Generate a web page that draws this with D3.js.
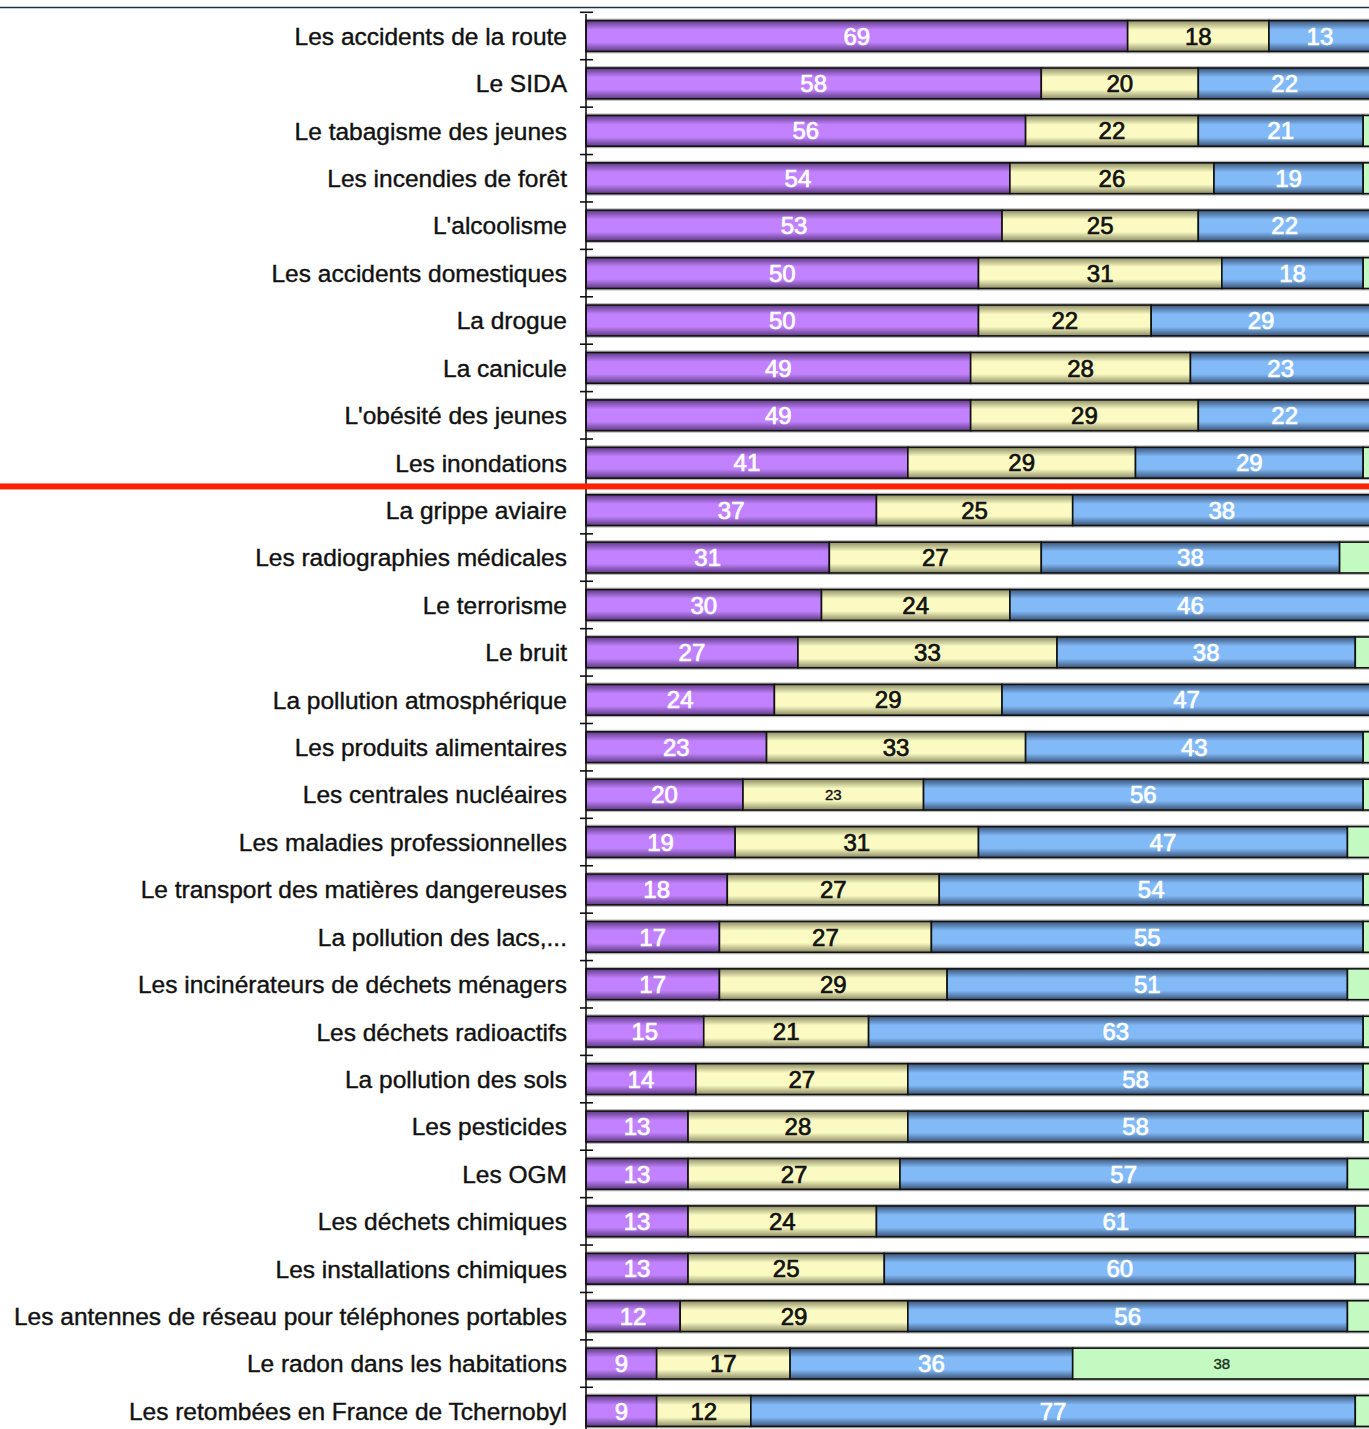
<!DOCTYPE html>
<html>
<head>
<meta charset="utf-8">
<script src="https://cdn.jsdelivr.net/npm/d3@7"></script>
<style>
  body { margin: 0; background: #fff; }
  svg { display: block; }
</style>
</head>
<body>
<div id="chart"></div>
<script>
// chart size = window size
var svgWidth = 1369;
var svgHeight = 1429;

// categories, top to bottom
var categories = [
  "Les accidents de la route", "Le SIDA", "Le tabagisme des jeunes",
  "Les incendies de forêt", "L'alcoolisme", "Les accidents domestiques",
  "La drogue", "La canicule", "L'obésité des jeunes", "Les inondations",
  "La grippe aviaire", "Les radiographies médicales", "Le terrorisme",
  "Le bruit", "La pollution atmosphérique", "Les produits alimentaires",
  "Les centrales nucléaires", "Les maladies professionnelles",
  "Le transport des matières dangereuses", "La pollution des lacs,...",
  "Les incinérateurs de déchets ménagers", "Les déchets radioactifs",
  "La pollution des sols", "Les pesticides", "Les OGM",
  "Les déchets chimiques", "Les installations chimiques",
  "Les antennes de réseau pour téléphones portables",
  "Le radon dans les habitations", "Les retombées en France de Tchernobyl"
];

// series values (%)
var eleves = [69, 58, 56, 54, 53, 50, 50, 49, 49, 41, 37, 31, 30, 27, 24, 23, 20, 19, 18, 17, 17, 15, 14, 13, 13, 13, 13, 12, 9, 9];
var moyens = [18, 20, 22, 26, 25, 31, 22, 28, 29, 29, 25, 27, 24, 33, 29, 33, 23, 31, 27, 27, 29, 21, 27, 28, 27, 24, 25, 29, 17, 12];
var faibles = [13, 22, 21, 19, 22, 18, 29, 23, 22, 29, 38, 38, 46, 38, 47, 43, 56, 47, 54, 55, 51, 63, 58, 58, 57, 61, 60, 56, 36, 77];
var nsp = [0, 0, 1, 1, 0, 1, 0, 0, 1, 1, 1, 4, 0, 2, 1, 1, 1, 3, 1, 1, 3, 1, 1, 1, 3, 2, 2, 3, 38, 2];

// the red separator is drawn below this row
var separatorAfter = "Les inondations";

// labels printed in a small font
var smallLabels = [["Les centrales nucléaires", "moyens"], ["Le radon dans les habitations", "nsp"]];

var keys = ["eleves", "moyens", "faibles", "nsp"];
var colors = {
  eleves: { light: "#c282ff", dark: "#5e3a82", text: "#ffffff" },
  moyens: { light: "#fafac2", dark: "#8e8e66", text: "#111111" },
  faibles: { light: "#82baf8", dark: "#3a5478", text: "#ffffff" },
  nsp: { light: "#c2fac2", dark: "#c2fac2", text: "#223322" }
};

var data = categories.map(function(c, i) {
  return { cat: c, eleves: eleves[i], moyens: moyens[i], faibles: faibles[i], nsp: nsp[i] };
});

var svg = d3.select("#chart")
  .append("svg")
  .attr("width", svgWidth)
  .attr("height", svgHeight);

// gradients for the glossy bars
var defs = svg.append("defs");
keys.forEach(function(k) {
  var g = defs.append("linearGradient")
    .attr("id", "grad-" + k)
    .attr("x1", 0).attr("y1", 0).attr("x2", 0).attr("y2", 1);
  if (k === "nsp") {
    g.append("stop").attr("offset", "0%").attr("stop-color", colors[k].light);
    g.append("stop").attr("offset", "100%").attr("stop-color", colors[k].light);
    return;
  }
  g.append("stop").attr("offset", "0%").attr("stop-color", colors[k].dark);
  g.append("stop").attr("offset", "30%").attr("stop-color", colors[k].light);
  g.append("stop").attr("offset", "70%").attr("stop-color", colors[k].light);
  g.append("stop").attr("offset", "100%").attr("stop-color", colors[k].dark);
});

// scales
var x = d3.scaleLinear()
  .domain([0, 100])
  .range([586, 1371]);

var y = d3.scaleBand()
  .domain(categories)
  .range([12.3, 1434.7])
  .paddingInner(0.35)
  .paddingOuter(0.175);

// top rule
svg.append("line")
  .attr("x1", 0).attr("x2", svgWidth)
  .attr("y1", 7.5).attr("y2", 7.5)
  .attr("stroke", "#1c3152")
  .attr("stroke-width", 1.5);

// bar shadows
svg.append("g")
  .selectAll("rect")
  .data(data)
  .enter()
  .append("rect")
  .attr("x", x(0))
  .attr("y", d => y(d.cat) - 2)
  .attr("width", x(100) - x(0) + 4)
  .attr("height", y.bandwidth() + 4)
  .attr("fill", "#b8b8b8");

var stack = d3.stack().keys(keys);
var series = stack(data);

var layers = svg.append("g")
  .selectAll("g")
  .data(series)
  .enter()
  .append("g")
  .attr("fill", d => "url(#grad-" + d.key + ")");

layers.selectAll("rect")
  .data(d => d.map(function(v) { v.key = d.key; return v; }))
  .enter()
  .append("rect")
  .attr("x", d => x(d[0]))
  .attr("y", d => y(d.data.cat))
  .attr("width", d => Math.max(0, x(d[1]) - x(d[0])))
  .attr("height", y.bandwidth())
  .attr("stroke", "#111")
  .attr("stroke-width", 1.6);

function isSmall(d) {
  return smallLabels.some(s => s[0] === d.data.cat && s[1] === d.key);
}

// value labels
layers.selectAll("text")
  .data(d => d.filter(v => v.data[d.key] >= 5))
  .enter()
  .append("text")
  .attr("x", d => (x(d[0]) + x(Math.min(d[1], 100))) / 2)
  .attr("y", d => y(d.data.cat) + y.bandwidth() / 2)
  .attr("dy", "0.36em")
  .attr("text-anchor", "middle")
  .attr("font-family", "'Liberation Sans', Arial, sans-serif")
  .attr("font-size", d => isSmall(d) ? 15 : 24)
  .attr("fill", d => colors[d.key].text)
  .attr("stroke", d => colors[d.key].text)
  .attr("stroke-width", d => isSmall(d) ? 0.4 : 0.7)
  .text(d => d.data[d.key]);

// axis with ticks on band boundaries
var axisG = svg.append("g");
axisG.append("line")
  .attr("x1", 586).attr("x2", 586)
  .attr("y1", 14).attr("y2", svgHeight)
  .attr("stroke", "#111")
  .attr("stroke-width", 1.6);

var bounds = categories.map(c => y(c) - y.step() * y.paddingInner() / 2);
axisG.selectAll("line.tick")
  .data(bounds)
  .enter()
  .append("line")
  .attr("class", "tick")
  .attr("x1", 580).attr("x2", 593)
  .attr("y1", d => d).attr("y2", d => d)
  .attr("stroke", "#111")
  .attr("stroke-width", 1.6);

// category labels
svg.append("g")
  .selectAll("text")
  .data(categories)
  .enter()
  .append("text")
  .attr("x", 567)
  .attr("y", d => y(d) + y.bandwidth() / 2)
  .attr("dy", "0.36em")
  .attr("text-anchor", "end")
  .attr("font-family", "'Liberation Sans', Arial, sans-serif")
  .attr("font-size", 24.5)
  .attr("fill", "#111")
  .attr("stroke", "#111")
  .attr("stroke-width", 0.4)
  .text(d => d);

// red separator
var sepY = y(separatorAfter) + y.bandwidth() + y.step() * y.paddingInner() / 2;
svg.append("rect")
  .attr("x", 0)
  .attr("y", sepY - 3)
  .attr("width", svgWidth)
  .attr("height", 6)
  .attr("fill", "#ff2200");
</script>
</body>
</html>
